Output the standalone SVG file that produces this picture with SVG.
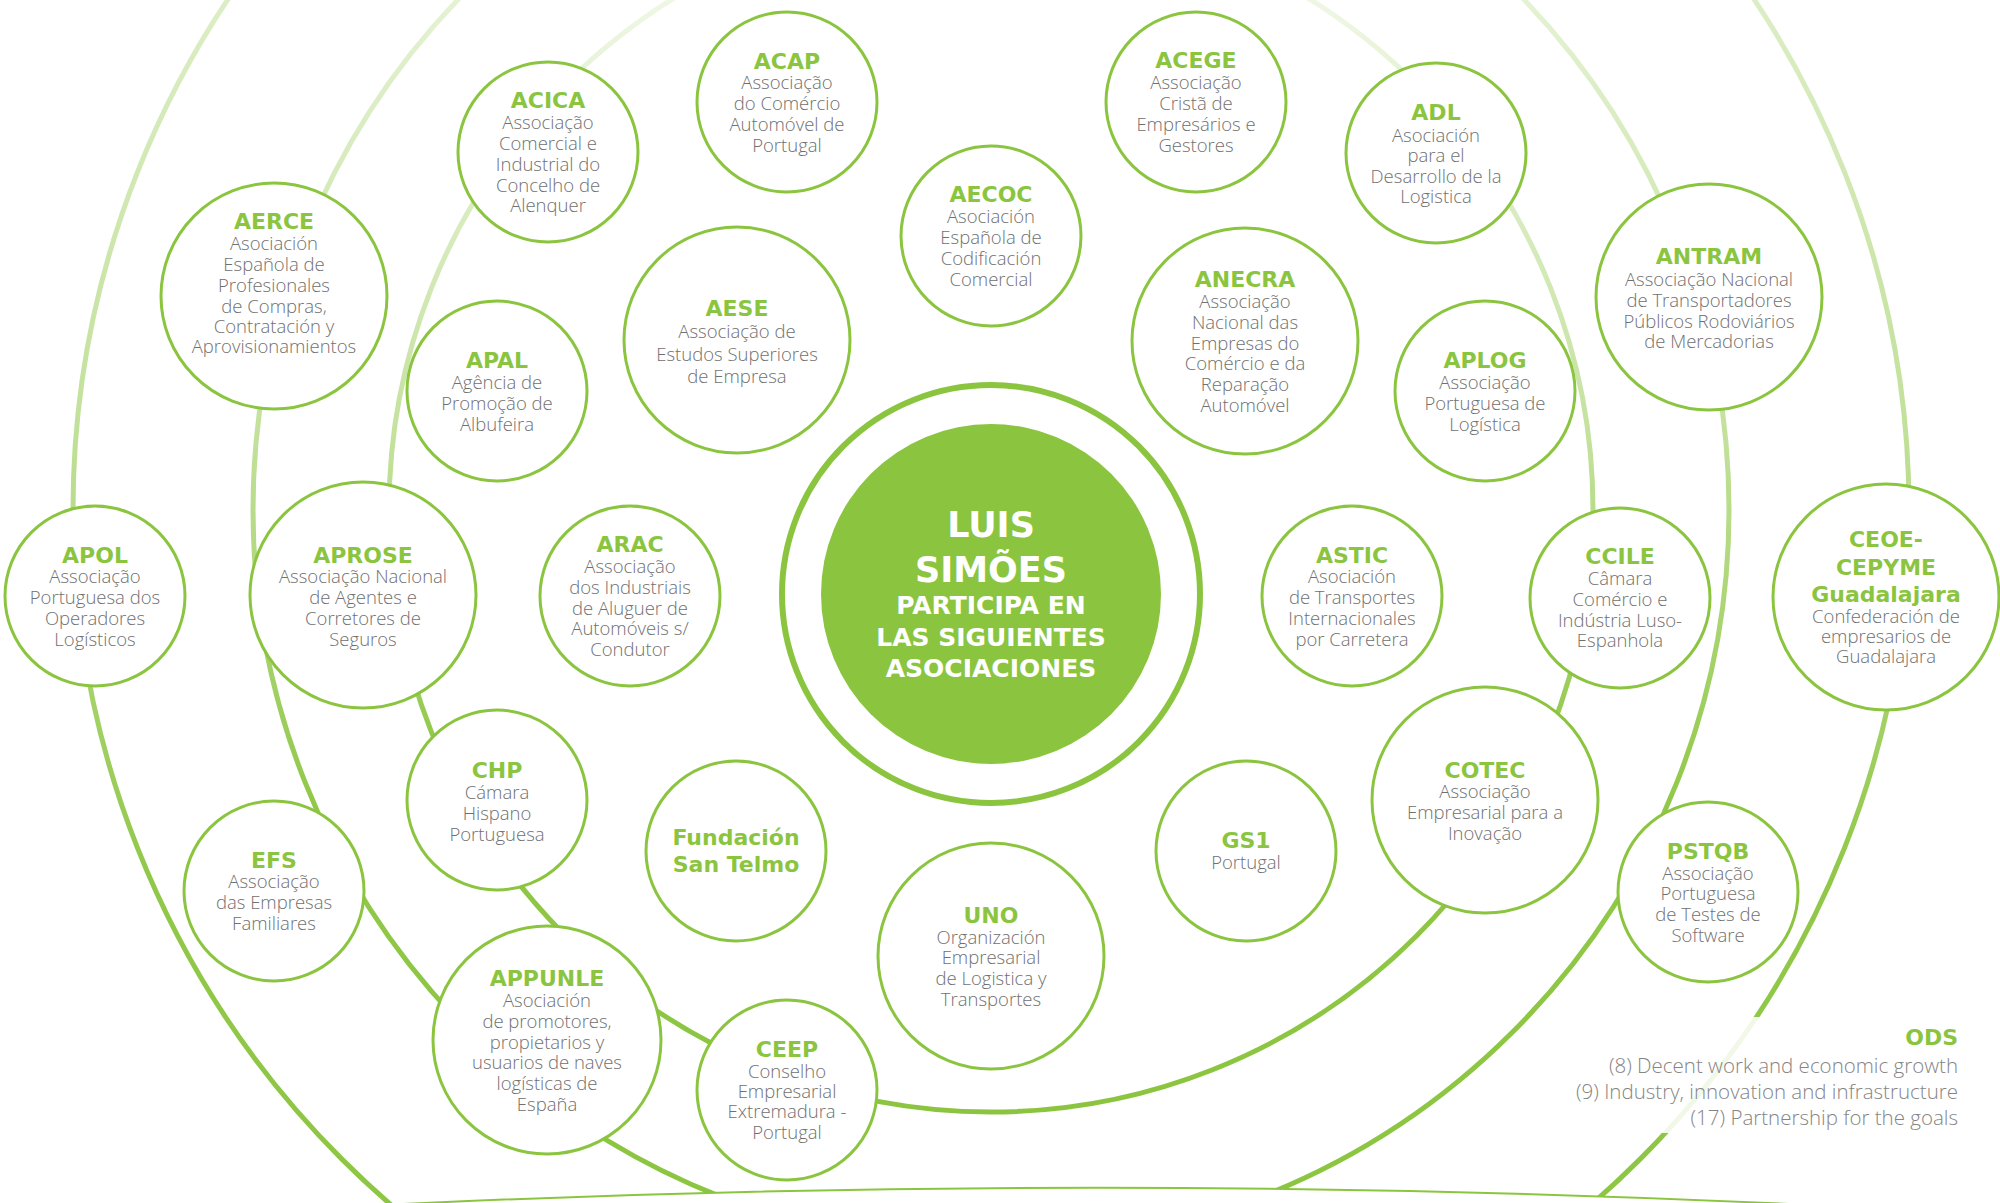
<svg xmlns="http://www.w3.org/2000/svg" width="2000" height="1203" viewBox="0 0 2000 1203">
<defs>
<linearGradient id="rg" x1="0" y1="0" x2="0" y2="1">
<stop offset="0" stop-color="#8bc53f" stop-opacity="0.05"/>
<stop offset="0.2" stop-color="#8bc53f" stop-opacity="0.28"/>
<stop offset="0.45" stop-color="#8bc53f" stop-opacity="0.52"/>
<stop offset="0.7" stop-color="#8bc53f" stop-opacity="0.95"/>
<stop offset="1" stop-color="#8bc53f" stop-opacity="1"/>
</linearGradient>
<style>
.ring{fill:none;stroke:url(#rg);stroke-width:5}
.node circle{fill:#fff;stroke:#8bc53f;stroke-width:3}
.t{font-family:"DejaVu Sans","Liberation Sans",sans-serif;font-weight:bold;font-size:22px;fill:#8bc53f;text-anchor:middle}
.d{font-family:"Open Sans","Liberation Sans",sans-serif;font-weight:300;font-size:18.5px;fill:#707070;text-anchor:middle}
.c{font-family:"DejaVu Sans","Liberation Sans",sans-serif;font-weight:bold;fill:#fff;text-anchor:middle}
.o{font-family:"Open Sans","Liberation Sans",sans-serif;font-weight:300;font-size:20.5px;fill:#858585;text-anchor:end}
</style>
</defs>
<rect width="2000" height="1203" fill="#fff"/>
<g id="connectors">
<circle class="ring" cx="991" cy="510" r="602"/>
<circle class="ring" cx="991" cy="510" r="738"/>
<circle class="ring" cx="991" cy="510" r="918"/>
<path d="M382,1205 Q1096,1170.4 1810,1205 L1810,1215 L382,1215 Z" fill="#fff"/>
<path d="M382,1205 Q1096,1170.4 1810,1205" fill="none" stroke="#8bc53f" stroke-width="2"/>
<rect x="1560" y="1017" width="420" height="116" fill="#fff" fill-opacity="0.88"/>
</g>
<g id="center">
<circle cx="991" cy="594" r="209" fill="none" stroke="#8bc53f" stroke-width="6"/>
<circle cx="991" cy="594" r="170" fill="#8bc53f"/>
<text class="c" font-size="35" x="991" y="537">LUIS</text>
<text class="c" font-size="35" x="991" y="582">SIMÕES</text>
<text class="c" font-size="25" x="991" y="614">PARTICIPA EN</text>
<text class="c" font-size="25" x="991" y="646">LAS SIGUIENTES</text>
<text class="c" font-size="25" x="991" y="677">ASOCIACIONES</text>
</g>
<g id="acap" class="node"><circle cx="787" cy="102" r="90"/><text class="t" x="787" y="69">ACAP</text><text class="d"><tspan x="787" y="89">Associação</tspan><tspan x="787" y="110">do Comércio</tspan><tspan x="787" y="131">Automóvel de</tspan><tspan x="787" y="152">Portugal</tspan></text></g>
<g id="acica" class="node"><circle cx="548" cy="152" r="90"/><text class="t" x="548" y="108">ACICA</text><text class="d"><tspan x="548" y="129">Associação</tspan><tspan x="548" y="150">Comercial e</tspan><tspan x="548" y="171">Industrial do</tspan><tspan x="548" y="192">Concelho de</tspan><tspan x="548" y="212">Alenquer</tspan></text></g>
<g id="aerce" class="node"><circle cx="274" cy="296" r="113"/><text class="t" x="274" y="229">AERCE</text><text class="d"><tspan x="274" y="250">Asociación</tspan><tspan x="274" y="271">Española de</tspan><tspan x="274" y="292">Profesionales</tspan><tspan x="274" y="313">de Compras,</tspan><tspan x="274" y="333">Contratación y</tspan><tspan x="274" y="353">Aprovisionamientos</tspan></text></g>
<g id="apal" class="node"><circle cx="497" cy="391" r="90"/><text class="t" x="497" y="368">APAL</text><text class="d"><tspan x="497" y="389">Agência de</tspan><tspan x="497" y="410">Promoção de</tspan><tspan x="497" y="431">Albufeira</tspan></text></g>
<g id="aese" class="node"><circle cx="737" cy="340" r="113"/><text class="t" x="737" y="316">AESE</text><text class="d" font-size="20"><tspan x="737" y="338">Associação de</tspan><tspan x="737" y="361">Estudos Superiores</tspan><tspan x="737" y="383">de Empresa</tspan></text></g>
<g id="aecoc" class="node"><circle cx="991" cy="236" r="90"/><text class="t" x="991" y="202">AECOC</text><text class="d"><tspan x="991" y="223">Asociación</tspan><tspan x="991" y="244">Española de</tspan><tspan x="991" y="265">Codificación</tspan><tspan x="991" y="286">Comercial</tspan></text></g>
<g id="acege" class="node"><circle cx="1196" cy="102" r="90"/><text class="t" x="1196" y="68">ACEGE</text><text class="d"><tspan x="1196" y="89">Associação</tspan><tspan x="1196" y="110">Cristã de</tspan><tspan x="1196" y="131">Empresários e</tspan><tspan x="1196" y="152">Gestores</tspan></text></g>
<g id="anecra" class="node"><circle cx="1245" cy="341" r="113"/><text class="t" x="1245" y="287">ANECRA</text><text class="d"><tspan x="1245" y="308">Associação</tspan><tspan x="1245" y="329">Nacional das</tspan><tspan x="1245" y="350">Empresas do</tspan><tspan x="1245" y="370">Comércio e da</tspan><tspan x="1245" y="391">Reparação</tspan><tspan x="1245" y="412">Automóvel</tspan></text></g>
<g id="adl" class="node"><circle cx="1436" cy="153" r="90"/><text class="t" x="1436" y="120">ADL</text><text class="d"><tspan x="1436" y="142">Asociación</tspan><tspan x="1436" y="162">para el</tspan><tspan x="1436" y="183">Desarrollo de la</tspan><tspan x="1436" y="203">Logistica</tspan></text></g>
<g id="antram" class="node"><circle cx="1709" cy="297" r="113"/><text class="t" x="1709" y="264">ANTRAM</text><text class="d"><tspan x="1709" y="286">Associação Nacional</tspan><tspan x="1709" y="307">de Transportadores</tspan><tspan x="1709" y="328">Públicos Rodoviários</tspan><tspan x="1709" y="348">de Mercadorias</tspan></text></g>
<g id="aplog" class="node"><circle cx="1485" cy="391" r="90"/><text class="t" x="1485" y="368">APLOG</text><text class="d"><tspan x="1485" y="389">Associação</tspan><tspan x="1485" y="410">Portuguesa de</tspan><tspan x="1485" y="431">Logística</tspan></text></g>
<g id="apol" class="node"><circle cx="95" cy="596" r="90"/><text class="t" x="95" y="563">APOL</text><text class="d"><tspan x="95" y="583">Associação</tspan><tspan x="95" y="604">Portuguesa dos</tspan><tspan x="95" y="625">Operadores</tspan><tspan x="95" y="646">Logísticos</tspan></text></g>
<g id="aprose" class="node"><circle cx="363" cy="595" r="113"/><text class="t" x="363" y="563">APROSE</text><text class="d"><tspan x="363" y="583">Associação Nacional</tspan><tspan x="363" y="604">de Agentes e</tspan><tspan x="363" y="625">Corretores de</tspan><tspan x="363" y="646">Seguros</tspan></text></g>
<g id="arac" class="node"><circle cx="630" cy="596" r="90"/><text class="t" x="630" y="552">ARAC</text><text class="d"><tspan x="630" y="573">Associação</tspan><tspan x="630" y="594">dos Industriais</tspan><tspan x="630" y="615">de Aluguer de</tspan><tspan x="630" y="635">Automóveis s/</tspan><tspan x="630" y="656">Condutor</tspan></text></g>
<g id="astic" class="node"><circle cx="1352" cy="596" r="90"/><text class="t" x="1352" y="563">ASTIC</text><text class="d"><tspan x="1352" y="583">Asociación</tspan><tspan x="1352" y="604">de Transportes</tspan><tspan x="1352" y="625">Internacionales</tspan><tspan x="1352" y="646">por Carretera</tspan></text></g>
<g id="ccile" class="node"><circle cx="1620" cy="598" r="90"/><text class="t" x="1620" y="564">CCILE</text><text class="d"><tspan x="1620" y="585">Câmara</tspan><tspan x="1620" y="606">Comércio e</tspan><tspan x="1620" y="627">Indústria Luso-</tspan><tspan x="1620" y="647">Espanhola</tspan></text></g>
<g id="ceoe" class="node"><circle cx="1886" cy="597" r="113"/><text class="t"><tspan x="1886" y="547">CEOE-</tspan><tspan x="1886" y="575">CEPYME</tspan><tspan x="1886" y="602">Guadalajara</tspan></text><text class="d"><tspan x="1886" y="623">Confederación de</tspan><tspan x="1886" y="643">empresarios de</tspan><tspan x="1886" y="663">Guadalajara</tspan></text></g>
<g id="chp" class="node"><circle cx="497" cy="800" r="90"/><text class="t" x="497" y="778">CHP</text><text class="d"><tspan x="497" y="799">Cámara</tspan><tspan x="497" y="820">Hispano</tspan><tspan x="497" y="841">Portuguesa</tspan></text></g>
<g id="cotec" class="node"><circle cx="1485" cy="800" r="113"/><text class="t" x="1485" y="778">COTEC</text><text class="d"><tspan x="1485" y="798">Associação</tspan><tspan x="1485" y="819">Empresarial para a</tspan><tspan x="1485" y="840">Inovação</tspan></text></g>
<g id="efs" class="node"><circle cx="274" cy="891" r="90"/><text class="t" x="274" y="868">EFS</text><text class="d"><tspan x="274" y="888">Associação</tspan><tspan x="274" y="909">das Empresas</tspan><tspan x="274" y="930">Familiares</tspan></text></g>
<g id="fst" class="node"><circle cx="736" cy="851" r="90"/><text class="t" font-size="21"><tspan x="736" y="845">Fundación</tspan><tspan x="736" y="872">San Telmo</tspan></text></g>
<g id="uno" class="node"><circle cx="991" cy="956" r="113"/><text class="t" x="991" y="923">UNO</text><text class="d"><tspan x="991" y="944">Organización</tspan><tspan x="991" y="964">Empresarial</tspan><tspan x="991" y="985">de Logistica y</tspan><tspan x="991" y="1006">Transportes</tspan></text></g>
<g id="gs1" class="node"><circle cx="1246" cy="851" r="90"/><text class="t" x="1246" y="848">GS1</text><text class="d" x="1246" y="869">Portugal</text></g>
<g id="appunle" class="node"><circle cx="547" cy="1040" r="114"/><text class="t" x="547" y="986">APPUNLE</text><text class="d"><tspan x="547" y="1007">Asociación</tspan><tspan x="547" y="1028">de promotores,</tspan><tspan x="547" y="1049">propietarios y</tspan><tspan x="547" y="1069">usuarios de naves</tspan><tspan x="547" y="1090">logísticas de</tspan><tspan x="547" y="1111">España</tspan></text></g>
<g id="ceep" class="node"><circle cx="787" cy="1090" r="90"/><text class="t" x="787" y="1057">CEEP</text><text class="d"><tspan x="787" y="1078">Conselho</tspan><tspan x="787" y="1098">Empresarial</tspan><tspan x="787" y="1118">Extremadura -</tspan><tspan x="787" y="1139">Portugal</tspan></text></g>
<g id="pstqb" class="node"><circle cx="1708" cy="892" r="90"/><text class="t" x="1708" y="859">PSTQB</text><text class="d"><tspan x="1708" y="880">Associação</tspan><tspan x="1708" y="900">Portuguesa</tspan><tspan x="1708" y="921">de Testes de</tspan><tspan x="1708" y="942">Software</tspan></text></g>
<g id="ods">
<text class="t" font-size="26" x="1958" y="1045" style="text-anchor:end">ODS</text>
<text class="o" x="1958" y="1073">(8) Decent work and economic growth</text>
<text class="o" x="1958" y="1099">(9) Industry, innovation and infrastructure</text>
<text class="o" x="1958" y="1125">(17) Partnership for the goals</text>
</g>
</svg>
